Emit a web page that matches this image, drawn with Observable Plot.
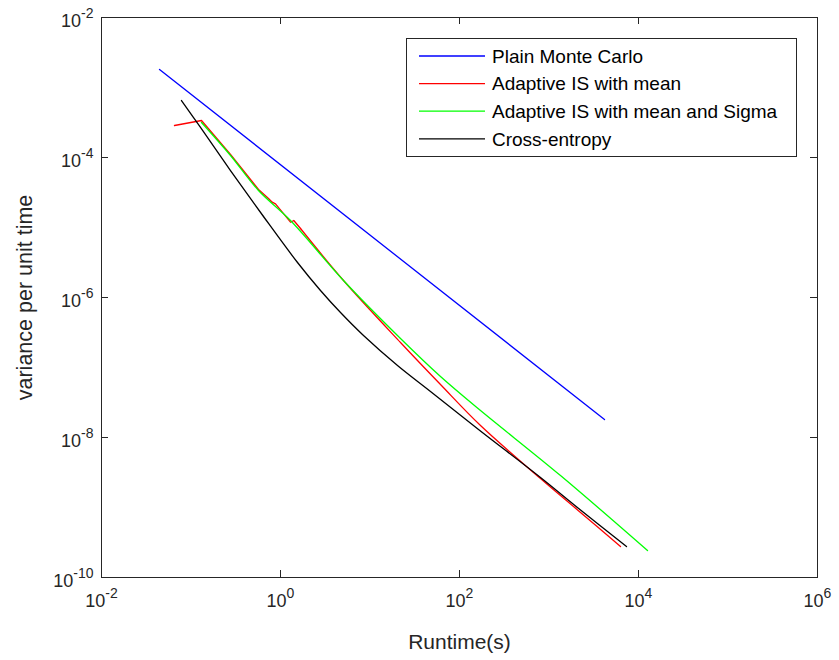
<!DOCTYPE html>
<html>
<head>
<meta charset="utf-8">
<script src="https://cdn.jsdelivr.net/npm/d3@7"></script>
<script src="https://cdn.jsdelivr.net/npm/@observablehq/plot@0.6"></script>
<style>
  body { margin: 0; background: #fff; }
  #chart { width: 839px; height: 660px; }
</style>
</head>
<body>
<div id="chart"></div>
<script>
// ---- data ----
const seriesNames = ["Plain Monte Carlo", "Adaptive IS with mean", "Adaptive IS with mean and Sigma", "Cross-entropy"];
const seriesColors = ["#0000ff", "#ff0000", "#00ff00", "#000000"];

const mcRuntime = [0.0445, 4171];
const mcVariance = [1.807e-3, 1.807e-8];

const isMeanRuntime = [0.0654, 0.131, 0.2763, 0.5678, 0.7344, 0.8079, 0.8794, 1.294, 1.408, 1.673, 5.057, 21.92, 61.33, 171.7, 803.5, 2249, 6294];
const isMeanVariance = [2.864e-4, 3.378e-4, 1.104e-4, 3.490e-5, 2.596e-5, 2.298e-5, 2.181e-5, 1.190e-5, 1.259e-5, 9.67e-6, 1.749e-6, 2.275e-7, 5.71e-8, 1.483e-8, 2.595e-9, 8.49e-10, 2.773e-10];
// index from which the "with mean" curve is smooth
const isMeanSmoothFrom = 9;

const isSigmaRuntime = [0.131, 0.2763, 0.5678, 1.294, 5.057, 21.92, 61.33, 171.7, 1344, 12610];
const isSigmaVariance = [3.162e-4, 1.068e-4, 3.378e-5, 1.259e-5, 1.749e-6, 2.596e-7, 7.44e-8, 2.430e-8, 2.864e-9, 2.430e-10];

const ceRuntime = [0.0783, 0.1277, 0.2763, 0.6455, 1.549, 2.798, 4.683, 8.461, 20.29, 47.42, 163.1, 803.5, 2249, 7343];
const ceVariance = [6.52e-4, 2.683e-4, 6.52e-5, 1.436e-5, 3.162e-6, 1.259e-6, 6.10e-7, 2.864e-7, 1.068e-7, 4.54e-8, 1.300e-8, 2.683e-9, 9.21e-10, 2.773e-10];

const xTicks = [1e-2, 1e0, 1e2, 1e4, 1e6];
const xTickLabels = ["10^-2", "10^0", "10^2", "10^4", "10^6"];
const yTicks = [1e-10, 1e-8, 1e-6, 1e-4, 1e-2];
const yTickLabels = ["10^-10", "10^-8", "10^-6", "10^-4", "10^-2"];

const xLabel = "Runtime(s)";
const yLabel = "variance per unit time";

// ---- build tables ----
const seriesX = [mcRuntime, isMeanRuntime, isSigmaRuntime, ceRuntime];
const seriesY = [mcVariance, isMeanVariance, isSigmaVariance, ceVariance];
const straightRows = [];  // drawn with straight segments
const smoothRows = [];    // drawn with a smooth curve
seriesNames.forEach((name, s) => {
  seriesX[s].forEach((x, i) => {
    const row = {series: name, x, y: seriesY[s][i]};
    if (s === 0) straightRows.push(row);
    else if (s === 1) {
      if (i <= isMeanSmoothFrom) straightRows.push(row);
      if (i >= isMeanSmoothFrom) smoothRows.push(row);
    } else smoothRows.push(row);
  });
});

const axisColor = "#262626";
const font = "'Liberation Sans', Arial, Helvetica, sans-serif";
const W = 839, H = 660, ML = 101, MR = 22, MT = 17, MB = 83;
const tickLen = 7;
const innerW = W - ML - MR, innerH = H - MT - MB;

const plot = Plot.plot({
  width: W, height: H,
  marginLeft: ML, marginRight: MR, marginTop: MT, marginBottom: MB,
  style: {fontFamily: font, background: "#fff", color: axisColor},
  x: {type: "log", domain: [1e-2, 1e6]},
  y: {type: "log", domain: [1e-10, 1e-2]},
  color: {domain: seriesNames, range: seriesColors},
  marks: [
    Plot.line(straightRows, {x: "x", y: "y", z: "series", stroke: "series", strokeWidth: 1.3}),
    Plot.line(smoothRows, {x: "x", y: "y", z: "series", stroke: "series", strokeWidth: 1.3, curve: "catmull-rom"}),
    Plot.frame({stroke: axisColor, strokeWidth: 1}),
    // inward ticks on all four sides
    Plot.tickX(xTicks, {x: d => d, insetTop: innerH - tickLen, stroke: axisColor}),
    Plot.tickX(xTicks, {x: d => d, insetBottom: innerH - tickLen, stroke: axisColor}),
    Plot.tickY(yTicks, {y: d => d, insetRight: innerW - tickLen, stroke: axisColor}),
    Plot.tickY(yTicks, {y: d => d, insetLeft: innerW - tickLen, stroke: axisColor}),
    Plot.axisX(xTicks, {tickSize: 0, tickPadding: 17, fontSize: 18, label: null,
      tickFormat: d => xTickLabels[xTicks.indexOf(d)], fill: axisColor}),
    Plot.axisY(yTicks, {tickSize: 0, tickPadding: 8, fontSize: 18, label: null, dy: 4,
      tickFormat: d => yTickLabels[yTicks.indexOf(d)], fill: axisColor}),
    Plot.text([xLabel], {frameAnchor: "bottom", lineAnchor: "bottom", textAnchor: "middle", dy: 71, fontSize: 21, fill: axisColor, text: d => d}),
    Plot.text([yLabel], {frameAnchor: "left", lineAnchor: "bottom", textAnchor: "middle", rotate: -90, dx: -70, fontSize: 21.5, fill: axisColor, text: d => d})
  ]
});

// superscript exponents in tick labels
d3.select(plot).selectAll("text").each(function() {
  const t = this.textContent;
  if (/^10\^/.test(t)) {
    const [base, exp] = t.split("^");
    const sel = d3.select(this);
    sel.text(null);
    sel.append("tspan").text(base);
    sel.append("tspan").attr("font-size", 14).attr("dy", -9).text(exp);
  }
});

// legend inside the axes (north-east)
const svg = d3.select(plot);
const lg = svg.append("g").attr("font-family", font).attr("font-size", 19).attr("text-anchor", "start");
const lx = 406.5, ly = 38.5, lw = 390, lh = 118;
lg.append("rect").attr("x", lx).attr("y", ly).attr("width", lw).attr("height", lh)
  .attr("fill", "#fff").attr("stroke", axisColor).attr("stroke-width", 1);
seriesNames.forEach((name, i) => {
  const yy = 56 + i * 27.6;
  lg.append("line").attr("x1", 419).attr("x2", 485).attr("y1", yy).attr("y2", yy)
    .attr("stroke", seriesColors[i]).attr("stroke-width", 1.3);
  lg.append("text").attr("x", 492).attr("y", yy + 6.8).attr("fill", "#000").text(name);
});

document.getElementById("chart").appendChild(plot);
</script>
</body>
</html>
